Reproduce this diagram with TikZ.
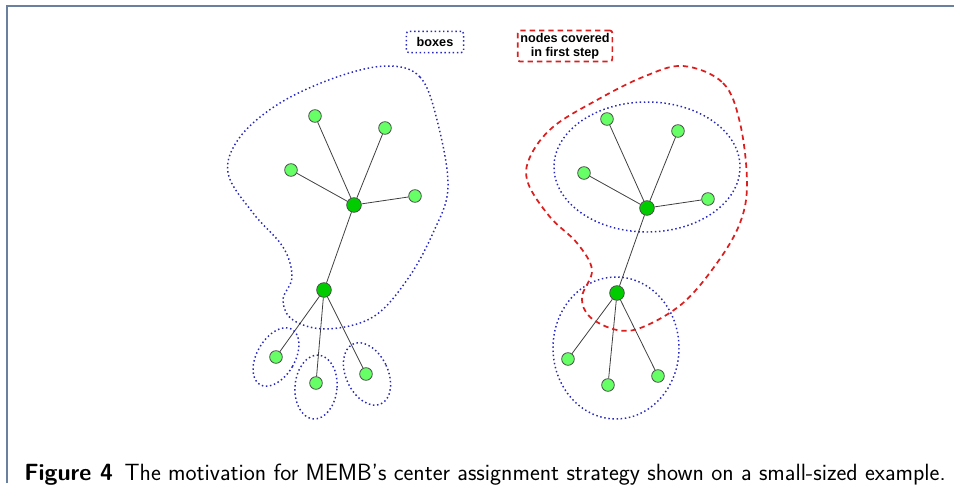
\documentclass[tikz,border=0pt]{standalone}
\usepackage{fontspec}
\newfontfamily\labelfont{Liberation Sans}
\usepackage{tikz}
\usetikzlibrary{positioning,shapes,arrows}
\definecolor{leafgreen}{RGB}{102,255,102}
\definecolor{hubgreen}{RGB}{0,204,0}
\definecolor{boxblue}{RGB}{40,40,190}
\definecolor{coverred}{RGB}{220,30,30}
\definecolor{framegray}{RGB}{105,128,158}

\begin{document}
\begin{tikzpicture}[x=0.75pt,y=-0.75pt,
		leaf/.style={circle,draw=black!70,fill=leafgreen,inner sep=0pt,minimum size=9.5pt,line width=0.6pt},
		hub/.style={circle,draw=black!70,fill=hubgreen,inner sep=0pt,minimum size=11pt,line width=0.6pt},
		boxline/.style={draw=boxblue,line width=1.1pt,dotted},
		coverline/.style={draw=coverred,line width=1.3pt,dash pattern=on 4pt off 3pt},
		legend/.style={font=\labelfont\bfseries\fontsize{9.5}{10.5}\selectfont,align=center,rounded corners=2pt,inner sep=2.5pt}]
		\useasboundingbox (0,0) rectangle (954,495);
		% frame
		\draw[framegray,line width=1.5pt] (7,483) -- (7,6) -- (954,6);
		
		% legend
		\node[legend,boxline,minimum width=43pt,minimum height=16pt] (boxes) at (435,42) {boxes};
		\node[legend,coverline,inner sep=2pt] (covered) at (565,46) {nodes covered\\in first step};
		
		% left graph
		\node[hub] (a) at (354,205) {};
		\node[hub] (b) at (324,290) {};
		\node[leaf] (a1) at (315,116) {};
		\node[leaf] (a2) at (385,128) {};
		\node[leaf] (a3) at (291,170) {};
		\node[leaf] (a4) at (415,196) {};
		\node[leaf] (b1) at (276,357) {};
		\node[leaf] (b2) at (316,383) {};
		\node[leaf] (b3) at (366,374) {};
		\path[black!75,line width=0.6pt]
		(a) edge (a1) (a) edge (a2) (a) edge (a3) (a) edge (a4)
		(a) edge (b)
		(b) edge (b1) (b) edge (b2) (b) edge (b3);
		
		\draw[boxline] plot[smooth cycle,tension=0.6] coordinates {
			(387,66) (420,77) (437,120) (448,187) (433,233) (407,280) (373,317)
			(327,329) (293,320) (283,300) (292,277) (283,247) (253,213)
			(228,173) (240,137) (280,103) (337,77)};
		\draw[boxline,rotate around={-30:(276,357)}] (276,357) ellipse [x radius=19,y radius=32];
		\draw[boxline,rotate around={-5:(316,387)}] (316,387) ellipse [x radius=21,y radius=32];
		\draw[boxline,rotate around={25:(367,374)}] (367,374) ellipse [x radius=21,y radius=33];
		
		% right graph
		\node[hub] (c) at (647,208) {};
		\node[hub] (d) at (617,293) {};
		\node[leaf] (c1) at (607,119) {};
		\node[leaf] (c2) at (678,131) {};
		\node[leaf] (c3) at (584,173) {};
		\node[leaf] (c4) at (708,199) {};
		\node[leaf] (d1) at (568,359) {};
		\node[leaf] (d2) at (608,385) {};
		\node[leaf] (d3) at (658,376) {};
		\path[black!75,line width=0.6pt]
		(c) edge (c1) (c) edge (c2) (c) edge (c3) (c) edge (c4)
		(c) edge (d)
		(d) edge (d1) (d) edge (d2) (d) edge (d3);
		
		\draw[boxline] (647,167) ellipse [x radius=93,y radius=65];
		\draw[boxline] (616,348) ellipse [x radius=63,y radius=71];
		\draw[coverline] plot[smooth cycle,tension=0.6] coordinates {
			(683,66) (723,83) (740,123) (747,183) (740,223) (717,263) (683,303)
			(643,327) (617,330) (590,317) (582,297) (592,270) (577,243)
			(550,217) (528,183) (530,157) (553,127) (597,100) (643,77)};
		
		% caption
		\node[anchor=base west,inner sep=0pt,font=\sffamily\fontsize{17.6}{20}\selectfont] (caption) at (24,480)
		{\textbf{Figure 4}\enspace The motivation for MEMB's center assignment strategy shown on a small-sized example.};
	\end{tikzpicture}
\end{document}
